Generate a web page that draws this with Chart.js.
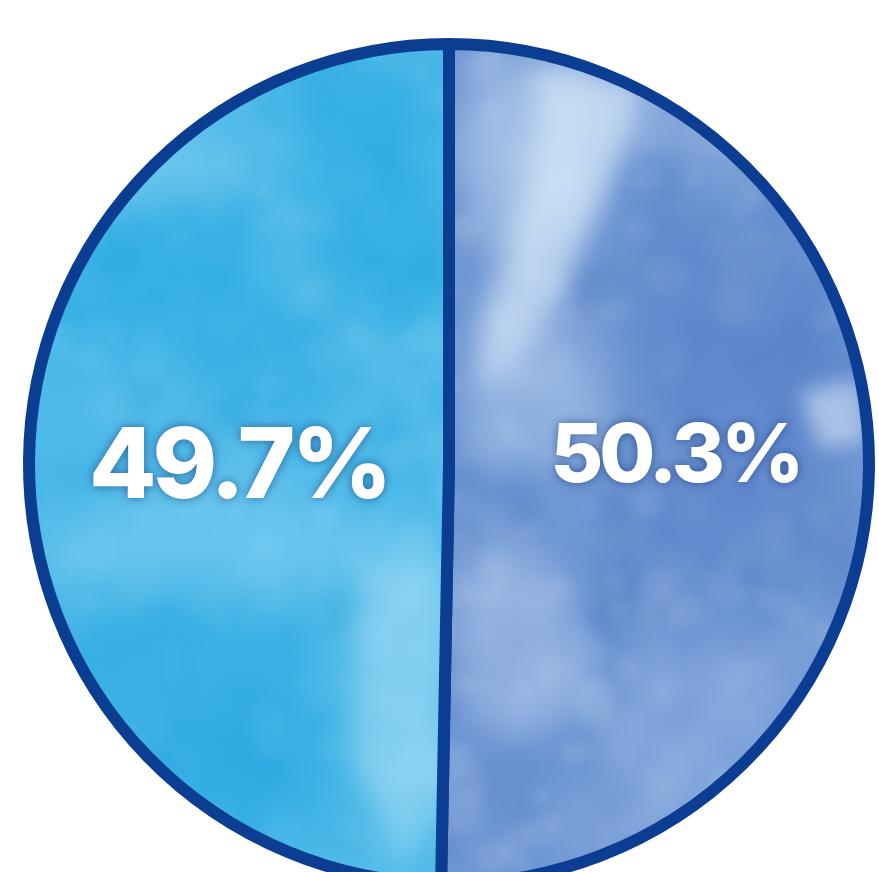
<!DOCTYPE html>
<html>
<head>
<meta charset="utf-8">
<script src="https://cdn.jsdelivr.net/npm/chart.js@4.4.0/dist/chart.umd.min.js"></script>
<style>
  html, body { margin: 0; padding: 0; background: #ffffff; overflow: hidden; }
  canvas { display: block; }
</style>
</head>
<body>
<canvas id="pie" width="879" height="900" style="width:879px;height:900px"></canvas>
<script>
// Share of the two groups, drawn clockwise from 12 o'clock
const categories = ['Group B', 'Group A'];
const shares = [50.3, 49.7];

// Label styling per slice: font size (px) and a small nudge from the slice centre
const labelSizes = [81, 98];
const labelNudge = [[8, -8], [8, 7]];

const canvas = document.getElementById('pie');
const ctx = canvas.getContext('2d');

// Fixed-seed generator so the paper grain is the same on every render
function seeded(seed) {
  let s = seed >>> 0;
  return () => ((s = (s * 1664525 + 1013904223) >>> 0) / 4294967296);
}

// Watercolour-like wash: base tone, a soft mottle, then broad blurred pools
function makeWash(base, pools, light, dark, seed) {
  const off = document.createElement('canvas');
  off.width = canvas.width;
  off.height = canvas.height;
  const g = off.getContext('2d');
  g.fillStyle = base;
  g.fillRect(0, 0, off.width, off.height);
  const rnd = seeded(seed);
  [[14, 40, 160], [6, 16, 600]].forEach(([blur, size, count]) => {
    g.filter = 'blur(' + blur + 'px)';
    for (let k = 0; k < count; k++) {
      const x = rnd() * off.width, y = rnd() * off.height;
      const r = size * (0.4 + rnd());
      g.fillStyle = rnd() < 0.5 ? light : dark;
      g.beginPath();
      g.ellipse(x, y, r, r * (0.5 + rnd()), rnd() * Math.PI, 0, Math.PI * 2);
      g.fill();
    }
  });
  pools.forEach(([blur, colour, pts]) => {
    g.filter = 'blur(' + blur + 'px)';
    g.fillStyle = colour;
    g.beginPath();
    pts.forEach(([x, y], i) => (i ? g.lineTo(x, y) : g.moveTo(x, y)));
    g.closePath();
    g.fill();
  });
  g.filter = 'none';
  return ctx.createPattern(off, 'no-repeat');
}

const cyanWash = makeWash('#4fbae9', [
  [22, 'rgba(25,165,225,0.5)', [[280,80],[420,70],[450,300],[380,330],[300,220]]],
  [26, 'rgba(30,168,228,0.4)', [[60,220],[260,200],[300,330],[120,360],[40,330]]],
  [24, 'rgba(125,208,243,0.5)', [[60,500],[300,480],[450,520],[450,580],[260,600],[60,580]]],
  [14, 'rgba(175,226,247,0.55)', [[360,560],[445,560],[450,820],[400,860],[350,760]]],
  [26, 'rgba(30,165,225,0.45)', [[80,620],[320,610],[340,820],[200,860],[90,760]]],
  [20, 'rgba(140,212,244,0.4)', [[120,130],[230,110],[240,190],[130,210]]]
], 'rgba(150,215,245,0.13)', 'rgba(20,160,222,0.13)', 7);

const blueWash = makeWash('#6f97d3', [
  [18, 'rgba(195,216,243,0.55)', [[470,55],[600,60],[590,200],[520,260],[470,240]]],
  [14, 'rgba(212,229,248,0.75)', [[540,70],[650,80],[620,160],[585,240],[555,310],[515,380],[475,385],[480,320],[510,240],[530,150]]],
  [16, 'rgba(180,205,238,0.5)', [[470,380],[560,330],[620,420],[560,470],[470,460]]],
  [24, 'rgba(88,128,200,0.55)', [[640,210],[820,230],[860,520],[700,600],[620,420]]],
  [16, 'rgba(178,202,237,0.55)', [[465,560],[560,560],[600,700],[520,740],[465,720]]],
  [24, 'rgba(160,190,232,0.4)', [[640,640],[820,620],[800,820],[660,860],[600,760]]],
  [10, 'rgba(205,222,244,0.65)', [[800,390],[860,380],[865,440],[820,450]]]
], 'rgba(190,212,242,0.14)', 'rgba(80,120,195,0.14)', 23);

// White percentage labels with a soft navy halo, placed inside each slice
const sliceLabels = {
  id: 'sliceLabels',
  afterDatasetsDraw(chart) {
    const c = chart.ctx;
    const arcs = chart.getDatasetMeta(0).data;
    arcs.forEach((arc, i) => {
      const { x, y, startAngle, endAngle, outerRadius } =
        arc.getProps(['x', 'y', 'startAngle', 'endAngle', 'outerRadius'], true);
      const mid = (startAngle + endAngle) / 2;
      const r = outerRadius * 0.52;
      const lx = x + Math.cos(mid) * r + labelNudge[i][0];
      const ly = y + Math.sin(mid) * r + labelNudge[i][1];
      c.save();
      c.font = '800 ' + labelSizes[i] + 'px Inter, Lato, sans-serif';
      c.letterSpacing = Math.round(-0.045 * labelSizes[i]) + 'px';
      c.textAlign = 'center';
      c.textBaseline = 'middle';
      c.shadowColor = 'rgba(10,45,110,0.6)';
      c.shadowBlur = 10;
      c.fillStyle = '#ffffff';
      c.fillText(shares[i].toFixed(1) + '%', lx, ly);
      c.restore();
    });
  }
};

new Chart(ctx, {
  type: 'pie',
  data: {
    labels: categories,
    datasets: [{
      data: shares,
      backgroundColor: [blueWash, cyanWash],
      borderColor: '#0b3e92',
      borderWidth: 12,
      hoverOffset: 0,
      offset: 0
    }]
  },
  options: {
    responsive: false,
    animation: false,
    devicePixelRatio: 1,
    layout: { padding: { left: 23, right: 4, top: 38, bottom: 10 } },
    plugins: {
      legend: { display: false },
      tooltip: { enabled: false }
    }
  },
  plugins: [sliceLabels]
});
</script>
</body>
</html>
